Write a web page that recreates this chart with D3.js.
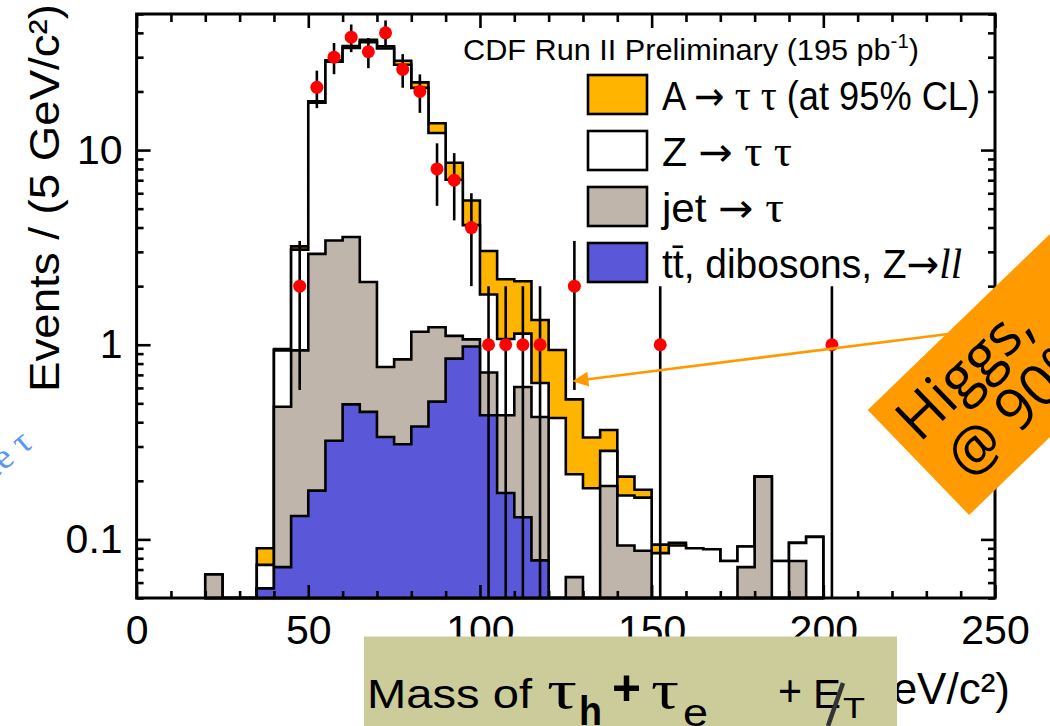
<!DOCTYPE html>
<html>
<head>
<meta charset="utf-8">
<script src="https://cdn.jsdelivr.net/npm/d3@7"></script>
<style>
  body { margin: 0; background: #fff; }
  svg { display: block; }
</style>
</head>
<body>
<svg id="chart" width="1050" height="726"></svg>
<script>
// bin lower edges (GeV/c^2), 5 GeV bins
var binLow = [20, 25, 30, 35, 40, 45, 50, 55, 60, 65, 70, 75, 80, 85, 90, 95, 100, 105, 110, 115,
              120, 125, 130, 135, 140, 145, 150, 155, 160, 165, 170, 175, 180, 185, 190, 195];
// stacked backgrounds, events per bin (bottom to top)
var ttbarDiboson = [0, 0, 0, 0.056, 0.072, 0.132, 0.178, 0.321, 0.494, 0.452, 0.336, 0.308, 0.38, 0.51, 0.848, 0.98, 0.434, 0.173, 0.13, 0.078,
                    0, 0, 0, 0, 0, 0, 0, 0, 0, 0, 0, 0, 0, 0, 0, 0];
var jetTau = [0.066, 0, 0, 0, 0.408, 0.803, 2.75, 3.11, 3.08, 1.65, 0.432, 0.533, 0.786, 0.72, 0.262, 0.085, 0.286, 0.261, 0.477, 0.347,
              0, 0.064, 0, 0.188, 0.093, 0.0875, 0, 0, 0, 0, 0, 0.072, 0.21, 0, 0.0775, 0];
var zTauTau = [0, 0, 0, 0.018, 0.455, 2.145, 14.6, 25.0, 29.9, 33.7, 32.5, 26.6, 19.7, 11.0, 5.93, 3.05, 1.09, 0.636, 0.533, 0.211,
               0.42, 0.152, 0.183, 0.097, 0.075, 0.0765, 0.085, 0.093, 0.090, 0.089, 0.0775, 0.020, 0, 0.0775, 0.0185, 0.103];
var aTauTau = [0, 0, 0, 0.016, 0.015, 0.12, 0.25, 0.5, 0.8, 1.0, 0.9, 1.3, 1.4, 1.5, 1.56, 1.39, 1.22, 1.1, 0.98, 0.704,
               0.52, 0.308, 0.151, 0.08, 0.042, 0.016, 0.009, 0.003, 0, 0, 0, 0, 0, 0, 0, 0];
// observed data
var dataMass = [47.5, 52.5, 57.5, 62.5, 67.5, 72.5, 77.5, 82.5, 87.5, 92.5, 97.5, 102.5, 107.5, 112.5, 117.5, 127.5, 152.5, 202.5];
var dataEvents = [2, 21, 30, 38, 32, 40, 26, 20, 8, 7, 4, 1, 1, 1, 1, 2, 1, 1];
var xTicksMajor = [0, 50, 100, 150, 200, 250];
var yTicksMajor = [0.1, 1, 10];
var binWidth = 5;

// legend labels as text pieces: s = sans, a = arrow, g = greek (serif), i = italic serif
var legendItems = [
  {key: "att", len: 318, parts: [["s", "A "], ["a", "\u2192"], ["s", " "], ["g", "\u03c4"], ["s", " "], ["g", "\u03c4"], ["s", " (at 95% CL)"]]},
  {key: "ztt", len: 130, parts: [["s", "Z "], ["a", "\u2192"], ["s", " "], ["g", "\u03c4"], ["s", " "], ["g", "\u03c4"]]},
  {key: "jet", len: 122, parts: [["s", "jet "], ["a", "\u2192"], ["s", " "], ["g", "\u03c4"]]},
  {key: "ttbar", len: 300, parts: [["s", "tt\u0304, dibosons, Z"], ["a", "\u2192"], ["i", "ll"]]}
];

var fills = {ttbar: "#5a58d8", jet: "#bfb5ab", ztt: "#ffffff", att: "#ffb400"};
var font = "'Liberation Sans', Arial, Helvetica, sans-serif";
var partFont = {s: font, a: "'DejaVu Sans', sans-serif", g: "'Liberation Serif', serif", i: "'Liberation Serif', serif"};

var svg = d3.select("#chart");

var x = d3.scaleLinear().domain([0, 250]).range([136.6, 995]);
var y = d3.scaleLog().domain([0.05, 50]).range([598, 14]);
var yBottom = y.range()[0];

function yTop(v) {
    return v > y.domain()[0] ? y(v) : yBottom;
}

// stacked histograms
var rows = binLow.map(function(b, i) {
    return {low: b, ttbar: ttbarDiboson[i], jet: jetTau[i], ztt: zTauTau[i], att: aTauTau[i]};
});
var stack = d3.stack().keys(["ttbar", "jet", "ztt", "att"])(rows);

var area = d3.area()
        .x(function(d) { return d[0]; })
        .y0(yBottom)
        .y1(function(d) { return d[1]; });

stack.slice().reverse().forEach(function(s) {
    var pts = [];
    s.forEach(function(d) {
        var t = yTop(d[1]);
        pts.push([x(d.data.low), t], [x(d.data.low + binWidth), t]);
    });
    svg.append("path")
            .attr("d", area(pts))
            .attr("fill", fills[s.key])
            .attr("stroke", "#000")
            .attr("stroke-width", 2.6);
});

// data points with poisson errors
var dataG = svg.append("g");
dataMass.forEach(function(m, i) {
    var n = dataEvents[i], e = Math.sqrt(n);
    dataG.append("line")
            .attr("x1", x(m)).attr("x2", x(m))
            .attr("y1", yTop(n + e)).attr("y2", yTop(n - e))
            .attr("stroke", "#000").attr("stroke-width", 2.6);
});
dataG.selectAll("circle")
        .data(dataMass)
        .enter().append("circle")
        .attr("cx", function(d) { return x(d); })
        .attr("cy", function(d, i) { return y(dataEvents[i]); })
        .attr("r", 6.5)
        .attr("fill", "#ff0000");

// axes
function styleAxis(g) {
    g.select(".domain").remove();
    g.selectAll("line").attr("stroke", "#000").attr("stroke-width", 2.6);
    g.selectAll("text").attr("font-family", font).attr("font-size", 41).attr("fill", "#000");
}
var yMinor = y.ticks().filter(function(d) { return yTicksMajor.indexOf(d) < 0; });
var xMinor = x.ticks(25).filter(function(d) { return xTicksMajor.indexOf(d) < 0; });

svg.append("g").attr("transform", "translate(0," + yBottom + ")")
        .call(d3.axisBottom(x).tickValues(xTicksMajor).tickSize(-13).tickPadding(17).tickFormat(d3.format("d")))
        .call(styleAxis);
svg.append("g").attr("transform", "translate(0," + yBottom + ")")
        .call(d3.axisBottom(x).tickValues(xMinor).tickSize(-7).tickFormat(""))
        .call(styleAxis);
svg.append("g").attr("transform", "translate(0," + y.range()[1] + ")")
        .call(d3.axisTop(x).tickValues(xTicksMajor).tickSize(-14).tickFormat(""))
        .call(styleAxis);
svg.append("g").attr("transform", "translate(0," + y.range()[1] + ")")
        .call(d3.axisTop(x).tickValues(xMinor).tickSize(-8).tickFormat(""))
        .call(styleAxis);
svg.append("g").attr("transform", "translate(" + x.range()[0] + ",0)")
        .call(d3.axisLeft(y).tickValues(yTicksMajor).tickSize(-14).tickPadding(14).tickFormat(function(d) { return String(d); }))
        .call(styleAxis);
svg.append("g").attr("transform", "translate(" + x.range()[0] + ",0)")
        .call(d3.axisLeft(y).tickValues(yMinor).tickSize(-7).tickFormat(""))
        .call(styleAxis);
svg.append("g").attr("transform", "translate(" + x.range()[1] + ",0)")
        .call(d3.axisRight(y).tickValues(yTicksMajor).tickSize(-14).tickFormat(""))
        .call(styleAxis);
svg.append("g").attr("transform", "translate(" + x.range()[1] + ",0)")
        .call(d3.axisRight(y).tickValues(yMinor).tickSize(-7).tickFormat(""))
        .call(styleAxis);

svg.append("rect")
        .attr("x", x.range()[0]).attr("y", y.range()[1])
        .attr("width", x.range()[1] - x.range()[0])
        .attr("height", yBottom - y.range()[1])
        .attr("fill", "none").attr("stroke", "#000").attr("stroke-width", 3);

// y title
svg.append("text")
        .attr("transform", "translate(59,392) rotate(-90)")
        .attr("font-family", font).attr("font-size", 42)
        .attr("textLength", 388).attr("lengthAdjust", "spacingAndGlyphs")
        .text("Events / (5 GeV/c\u00b2)");

// original x title (mostly hidden under the pasted label)
svg.append("text")
        .attr("x", 1010).attr("y", 704)
        .attr("text-anchor", "end")
        .attr("font-family", font).attr("font-size", 44)
        .text("Mass of \u03c4\u03c4 + E (GeV/c\u00b2)");

// legend
var lg = svg.append("g");
lg.append("text")
        .attr("x", 463).attr("y", 60)
        .attr("font-family", font).attr("font-size", 30)
        .attr("textLength", 456).attr("lengthAdjust", "spacingAndGlyphs")
        .call(function(t) {
            t.append("tspan").text("CDF Run II Preliminary (195 pb");
            t.append("tspan").attr("dy", -12).attr("font-size", 20).text("-1");
            t.append("tspan").attr("dy", 12).text(")");
        });
legendItems.forEach(function(d, i) {
    var top = 75 + i * 56;
    lg.append("rect")
            .attr("x", 588).attr("y", top)
            .attr("width", 59).attr("height", 39)
            .attr("fill", fills[d.key]).attr("stroke", "#000").attr("stroke-width", 2.6);
    var t = lg.append("text")
            .attr("x", 662).attr("y", top + 35)
            .attr("font-family", font).attr("font-size", 40)
            .attr("textLength", d.len).attr("lengthAdjust", "spacingAndGlyphs");
    d.parts.forEach(function(p) {
        var ts = t.append("tspan").attr("font-family", partFont[p[0]]).text(p[1]);
        if (p[0] === "i") ts.attr("font-style", "italic").attr("font-size", 42);
        if (p[0] === "g") ts.attr("font-size", 44);
    });
});

// annotation arrow toward the excess
var tip = [x(126.9), y(0.65)], tail = [x(244), y(1.18)];
var ang = Math.atan2(tail[1] - tip[1], tail[0] - tip[0]);
svg.append("line")
        .attr("x1", tail[0]).attr("y1", tail[1])
        .attr("x2", tip[0] + 12 * Math.cos(ang)).attr("y2", tip[1] + 12 * Math.sin(ang))
        .attr("stroke", "#ff9900").attr("stroke-width", 2.5);
var ah = [[0, 0], [16, -7.5], [16, 7.5]].map(function(p) {
    return [tip[0] + p[0] * Math.cos(ang) - p[1] * Math.sin(ang),
            tip[1] + p[0] * Math.sin(ang) + p[1] * Math.cos(ang)];
});
svg.append("path").attr("d", d3.line()(ah) + "Z").attr("fill", "#ff9900");

// "Higgs" sticker
var hg = svg.append("g").attr("transform", "translate(867.7,410) rotate(-44)");
hg.append("rect").attr("x", 0).attr("y", 0).attr("width", 300).attr("height", 146).attr("fill", "#ff9a00");
hg.append("text").attr("x", 14).attr("y", 60)
        .attr("font-family", "'Open Sans', sans-serif").attr("font-size", 58)
        .text("Higgs,");
hg.append("text").attr("x", 24).attr("y", 122)
        .attr("font-family", "'Open Sans', sans-serif").attr("font-size", 58)
        .text("@ 90%");

// stray slide label at left edge
svg.append("text")
        .attr("transform", "translate(34,446) rotate(-40)")
        .attr("text-anchor", "end")
        .attr("font-family", "'Liberation Serif', serif").attr("font-size", 36)
        .attr("fill", "#5b96f0")
        .text("\u03c4e \u03c4");

// pasted x-axis label
svg.append("rect").attr("x", 364).attr("y", 636.5).attr("width", 533).attr("height", 90).attr("fill", "#cccc9a");
var labelPieces = [
  {t: "Mass of", x: 367, y: 708, size: 40, len: 165},
  {t: "\u03c4", x: 547, y: 708, size: 54, len: 30, fam: "'Liberation Serif', serif"},
  {t: "h", x: 579, y: 725, size: 40, len: 23, bold: true},
  {t: "+", x: 612, y: 705, size: 50, len: 29, bold: true},
  {t: "\u03c4", x: 651, y: 708, size: 54, len: 28, fam: "'Liberation Serif', serif"},
  {t: "e", x: 683, y: 726, size: 38, len: 25},
  {t: "+", x: 778, y: 706, size: 44, len: 24},
  {t: "E", x: 813, y: 708, size: 40, len: 28},
  {t: "T", x: 843, y: 718, size: 30, len: 22}
];
labelPieces.forEach(function(p) {
    svg.append("text")
            .attr("x", p.x).attr("y", p.y)
            .attr("font-family", p.fam || font).attr("font-size", p.size)
            .attr("font-weight", p.bold ? "bold" : "normal")
            .attr("textLength", p.len).attr("lengthAdjust", "spacingAndGlyphs")
            .text(p.t);
});
svg.append("line")
        .attr("x1", 828).attr("y1", 726)
        .attr("x2", 843).attr("y2", 683)
        .attr("stroke", "#333").attr("stroke-width", 4.5);
</script>
</body>
</html>
